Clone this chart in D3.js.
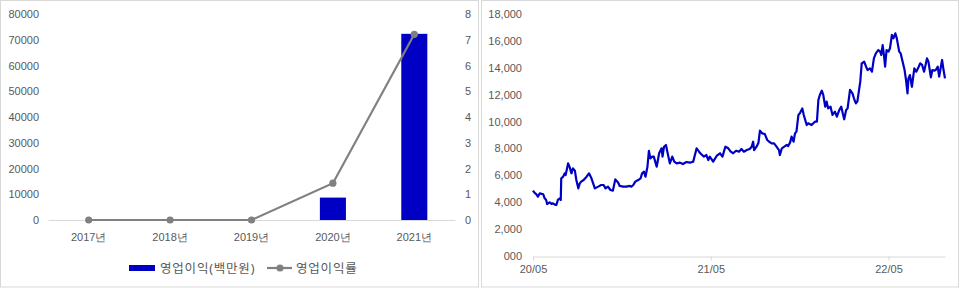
<!DOCTYPE html>
<html>
<head>
<meta charset="utf-8">
<script src="https://cdn.jsdelivr.net/npm/d3@7"></script>
<style>
  body { margin: 0; background: #fff; }
  svg { display: block; font-family: "Noto Sans", "Noto Sans CJK KR", sans-serif; }
  .tick text, .lbl { fill: #595959; }
</style>
</head>
<body>
<svg id="chart" width="960" height="288"></svg>
<script>
// left chart: 영업이익 / 영업이익률
var years = ["2017년", "2018년", "2019년", "2020년", "2021년"];
var profit = [0, 0, 0, 8700, 72300];      // 백만원
var profitRate = [0, 0, 0, 1.43, 7.21];   // %
var leftTicks = [0, 10000, 20000, 30000, 40000, 50000, 60000, 70000, 80000];
var rightTicks = [0, 1, 2, 3, 4, 5, 6, 7, 8];

// right chart: stock price (days since 2020-05-01, price)
var priceDays = [0, 3, 7, 10, 14, 21, 24, 27, 29, 34, 38, 41, 45, 48, 51, 55, 57, 58, 62, 65,
  67, 70, 72, 75, 79, 82, 86, 89, 93, 96, 99, 104, 110, 115, 120, 127, 134, 140, 145, 149,
  154, 159, 164, 169, 175, 178, 185, 192, 199, 202, 206, 210, 216, 221, 224, 228, 231, 235, 238, 241,
  245, 248, 254, 259, 264, 266, 269, 273, 278, 281, 286, 290, 295, 302, 308, 315, 322, 329, 336, 341,
  345, 351, 356, 360, 363, 370, 377, 384, 389, 395, 401, 406, 411, 417, 423, 428, 433, 439, 445, 449,
  452, 454, 459, 463, 466, 471, 476, 481, 485, 490, 495, 500, 505, 507, 511, 516, 521, 524, 528, 531,
  535, 538, 541, 545, 548, 553, 556, 562, 565, 572, 579, 583, 586, 589, 593, 596, 600, 603, 606, 611,
  615, 620, 624, 629, 633, 636, 639, 643, 646, 651, 656, 659, 663, 666, 672, 675, 680, 684, 687, 692,
  696, 700, 704, 709, 713, 715, 718, 721, 723, 726, 730, 733, 737, 740, 744, 747, 752, 755, 759, 763,
  766, 769, 771, 774, 778, 783, 787, 792, 795, 799, 803, 809, 812, 817, 820, 824, 827, 831, 834, 840,
  843, 846];
var priceValues = [4860, 4710, 4590, 4410, 4660, 4590, 4290, 4170, 3870, 3990, 3870, 3920, 3820, 3790, 4170, 4290, 4170, 5780, 5900, 6150,
  6020, 6520, 6890, 6640, 6150, 6520, 6350, 5650, 5030, 5400, 5530, 5650, 5900, 6150, 5780, 5030, 5160, 5280, 5280, 5030,
  5160, 4910, 4860, 5700, 5450, 5210, 5160, 5160, 5210, 5160, 5280, 5530, 5650, 5780, 6150, 6270, 5900, 6640, 7830, 7260,
  7390, 7390, 6640, 7640, 8010, 7390, 8130, 8260, 7390, 6890, 7390, 7020, 6890, 6940, 6840, 6990, 6940, 7020, 8010, 7760,
  7590, 7390, 7510, 7140, 7390, 7020, 7440, 7640, 7390, 8130, 8010, 7760, 7640, 7830, 7760, 7960, 7760, 7880, 7960, 8130,
  8500, 7880, 8130, 8430, 9320, 9120, 9070, 8630, 8500, 8380, 8380, 8130, 7880, 7510, 8010, 8130, 8260, 8180, 8450, 8880,
  8500, 9120, 9250, 10490, 10610, 10980, 10490, 9740, 9870, 9740, 9990, 9990, 11600, 11980, 12300, 11980, 11110, 11480, 10980, 11110,
  10490, 10740, 10360, 10860, 11110, 10610, 10170, 10860, 10980, 12350, 12100, 11730, 11350, 11480, 12970, 14330, 14450, 14080, 13830, 13960,
  13710, 14700, 15070, 15320, 15200, 14950, 15690, 14830, 14080, 15320, 15200, 15450, 16440, 16190, 16560, 16190, 15200, 15070, 14450, 13830,
  13090, 12100, 13210, 13460, 12590, 13960, 13710, 14080, 14330, 14210, 13710, 14700, 14450, 13290, 13830, 13790, 13830, 14080, 13340, 14580,
  13830, 13210];
var priceTicks = [0, 2000, 4000, 6000, 8000, 10000, 12000, 14000, 16000, 18000];

var barColor = "#0000c4";
var lineColor = "#808080";
var axisColor = "#d9d9d9";

var svg = d3.select("#chart");

// panel borders
svg.append("rect").attr("x", 0.5).attr("y", 0.5).attr("width", 478).attr("height", 286.5)
  .attr("fill", "#fff").attr("stroke", axisColor);
svg.append("rect").attr("x", 481.5).attr("y", 0.5).attr("width", 477).attr("height", 286.5)
  .attr("fill", "#fff").attr("stroke", axisColor);

// ---- left chart ----
var left = { x0: 48, x1: 455, y0: 220, y1: 14 };

var xBand = d3.scaleBand().domain(years).range([left.x0, left.x1]);
var yLeft = d3.scaleLinear().domain([0, 80000]).range([left.y0, left.y1]);
var yRight = d3.scaleLinear().domain([0, 8]).range([left.y0, left.y1]);

var gl = svg.append("g");

var yAxisL = gl.append("g")
  .attr("transform", "translate(" + left.x0 + ",0)")
  .call(d3.axisLeft(yLeft).tickValues(leftTicks).tickSize(0).tickPadding(9).tickFormat(d3.format("d")));
yAxisL.select(".domain").remove();

var yAxisR = gl.append("g")
  .attr("transform", "translate(" + left.x1 + ",0)")
  .call(d3.axisRight(yRight).tickValues(rightTicks).tickSize(0).tickPadding(10));
yAxisR.select(".domain").remove();

var xAxisL = gl.append("g")
  .attr("transform", "translate(0," + left.y0 + ")")
  .call(d3.axisBottom(xBand).tickSize(0).tickPadding(13));
xAxisL.select(".domain").attr("stroke", axisColor);

gl.selectAll(".tick text").attr("font-size", 11);

var barW = xBand.bandwidth() * 0.32;
gl.selectAll("rect.bar")
  .data(years)
  .enter().append("rect")
  .attr("class", "bar")
  .attr("x", function(d) { return xBand(d) + xBand.bandwidth() / 2 - barW / 2; })
  .attr("y", function(d, i) { return yLeft(profit[i]); })
  .attr("width", barW)
  .attr("height", function(d, i) { return yLeft(0) - yLeft(profit[i]); })
  .attr("fill", barColor);

var rateLine = d3.line()
  .x(function(d, i) { return xBand(years[i]) + xBand.bandwidth() / 2; })
  .y(function(d) { return yRight(d); });

gl.append("path")
  .datum(profitRate)
  .attr("d", rateLine)
  .attr("fill", "none")
  .attr("stroke", lineColor)
  .attr("stroke-width", 2.2);

gl.selectAll("circle.dot")
  .data(profitRate)
  .enter().append("circle")
  .attr("class", "dot")
  .attr("cx", function(d, i) { return xBand(years[i]) + xBand.bandwidth() / 2; })
  .attr("cy", function(d) { return yRight(d); })
  .attr("r", 3.6)
  .attr("fill", lineColor);

// legend
var lg = gl.append("g").attr("font-size", 12.5);
lg.append("rect").attr("x", 129).attr("y", 265).attr("width", 26).attr("height", 6).attr("fill", barColor);
lg.append("text").attr("class", "lbl").attr("x", 160).attr("y", 272.5)
  .attr("letter-spacing", 0.8).text("영업이익(백만원)");
lg.append("line").attr("x1", 267).attr("x2", 292).attr("y1", 268).attr("y2", 268)
  .attr("stroke", lineColor).attr("stroke-width", 2.2);
lg.append("circle").attr("cx", 280).attr("cy", 268).attr("r", 3.6).attr("fill", lineColor);
lg.append("text").attr("class", "lbl").attr("x", 296).attr("y", 272.5)
  .attr("letter-spacing", 0.8).text("영업이익률");

// ---- right chart ----
var right = { x0: 533, x1: 945, y0: 256, y1: 14 };
var start = new Date(2020, 4, 1);
var prices = priceDays.map(function(d, i) {
  return { date: d3.timeDay.offset(start, d), value: priceValues[i] };
});

var xTime = d3.scaleTime()
  .domain([start, prices[prices.length - 1].date])
  .range([right.x0, right.x1]);
var yPrice = d3.scaleLinear().domain([0, 18000]).range([right.y0, right.y1]);

var gr = svg.append("g");

var yAxisP = gr.append("g")
  .attr("transform", "translate(" + right.x0 + ",0)")
  .call(d3.axisLeft(yPrice).tickValues(priceTicks).tickSize(0).tickPadding(11)
    .tickFormat(function(d) { return d === 0 ? "000" : d3.format(",")(d); }));
yAxisP.select(".domain").remove();

var xAxisP = gr.append("g")
  .attr("transform", "translate(0," + (right.y0 + 0.5) + ")")
  .call(d3.axisBottom(xTime)
    .tickValues([new Date(2020, 4, 1), new Date(2021, 4, 1), new Date(2022, 4, 1)])
    .tickSize(4).tickSizeOuter(0).tickPadding(5)
    .tickFormat(d3.timeFormat("%y/%m")));
xAxisP.select(".domain").attr("stroke", axisColor);
xAxisP.selectAll(".tick line").attr("stroke", axisColor);

gr.selectAll(".tick text").attr("font-size", 11);

var priceLine = d3.line()
  .x(function(d) { return xTime(d.date); })
  .y(function(d) { return yPrice(d.value); });

gr.append("path")
  .datum(prices)
  .attr("d", priceLine)
  .attr("fill", "none")
  .attr("stroke", barColor)
  .attr("stroke-width", 2.2)
  .attr("stroke-linejoin", "round");
</script>
</body>
</html>
